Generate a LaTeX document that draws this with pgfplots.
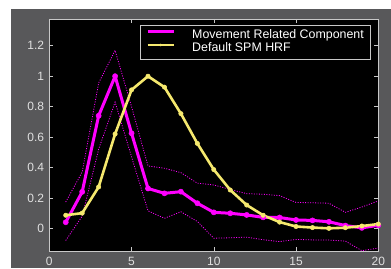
\documentclass[border=0pt]{standalone}
\usepackage{pgfplots}
\pgfplotsset{compat=1.18}
\usepackage{fontspec}
\setmainfont{Liberation Sans}
\definecolor{figbg}{RGB}{88,88,90}
\definecolor{axfg}{RGB}{200,200,200}
\definecolor{mag}{RGB}{255,0,255}
\definecolor{yel}{RGB}{245,232,110}
\begin{document}
\begin{tikzpicture}
\fill[white] (0pt,0pt) rectangle (391pt,268pt);
\fill[figbg] (11pt,0pt) rectangle (391pt,259pt);
\begin{axis}[
  at={(49.3pt,16.7pt)}, anchor=south west,
  scale only axis, width=329pt, height=232.3pt,
  xmin=0, xmax=20, ymin=-0.151, ymax=1.376,
  axis background/.style={fill=black},
  axis line style={axfg, line width=0.6pt},
  xtick={0,5,10,15,20}, ytick={0,0.2,0.4,0.6,0.8,1,1.2},
  tick align=inside, major tick length=4pt,
  tick style={axfg, line width=0.6pt},
  /pgf/number format/assume math mode=true,
  tick label style={font=\fontsize{12}{14}\selectfont, color=white!88!black, inner sep=0pt},
  yticklabel style={xshift=-5pt},
  xticklabel style={yshift=-6pt},
  legend style={at={(0.975,0.974)}, anchor=north east, draw=axfg, fill=black,
    text=white, font=\fontsize{12.4}{14}\selectfont, inner xsep=6pt, inner ysep=3.8pt,
    column sep=17pt, row sep=0pt,
    nodes={inner sep=0pt, text height=9.4pt, text depth=3.9pt}},
  legend cell align=left,
  legend image code/.code={\draw[mark repeat=2, mark phase=2, #1, mark size=1.1pt] plot coordinates {(0pt,4pt) (13pt,4pt) (26pt,4pt)};},
]
% upper bound
\addplot[mag, line width=0.8pt, dash pattern=on 1pt off 1.5pt, forget plot] coordinates {
(1,0.173) (2,0.37) (3,0.955) (4,1.17) (5,0.80) (6,0.41) (7,0.395) (8,0.366) (9,0.297) (10,0.285)
(11,0.255) (12,0.228) (13,0.224) (14,0.215) (15,0.17) (16,0.168) (17,0.165) (18,0.105) (19,0.14) (20,0.18)};
% lower bound
\addplot[mag, line width=0.8pt, dash pattern=on 1pt off 1.5pt, forget plot] coordinates {
(1,-0.08) (2,0.08) (3,0.52) (4,0.83) (5,0.47) (6,0.115) (7,0.066) (8,0.109) (9,0.045) (10,-0.065)
(11,-0.062) (12,-0.058) (13,-0.075) (14,-0.087) (15,-0.073) (16,-0.076) (17,-0.077) (18,-0.084) (19,-0.147) (20,-0.13)};
% movement related component
\addplot[mag, line width=3pt, line join=round, mark=*, mark size=2.6pt, mark options={solid, fill=mag, draw=mag, line width=0.5pt}] coordinates {
(1,0.04) (2,0.24) (3,0.74) (4,1.0) (5,0.625) (6,0.262) (7,0.23) (8,0.241) (9,0.165) (10,0.105)
(11,0.099) (12,0.088) (13,0.072) (14,0.071) (15,0.055) (16,0.052) (17,0.043) (18,0.018) (19,0.003) (20,0.02)};
% default SPM HRF
\addplot[yel, line width=2.6pt, line join=round, mark=*, mark size=2.2pt, mark options={solid, fill=yel, draw=yel, line width=0.5pt}] coordinates {
(1,0.086) (2,0.10) (3,0.272) (4,0.62) (5,0.91) (6,1.0) (7,0.928) (8,0.754) (9,0.558) (10,0.386)
(11,0.252) (12,0.153) (13,0.086) (14,0.041) (15,0.012) (16,0.005) (17,0.0) (18,0.004) (19,0.015) (20,0.028)};
\legend{Movement Related Component, Default SPM HRF}
\end{axis}
\end{tikzpicture}
\end{document}
